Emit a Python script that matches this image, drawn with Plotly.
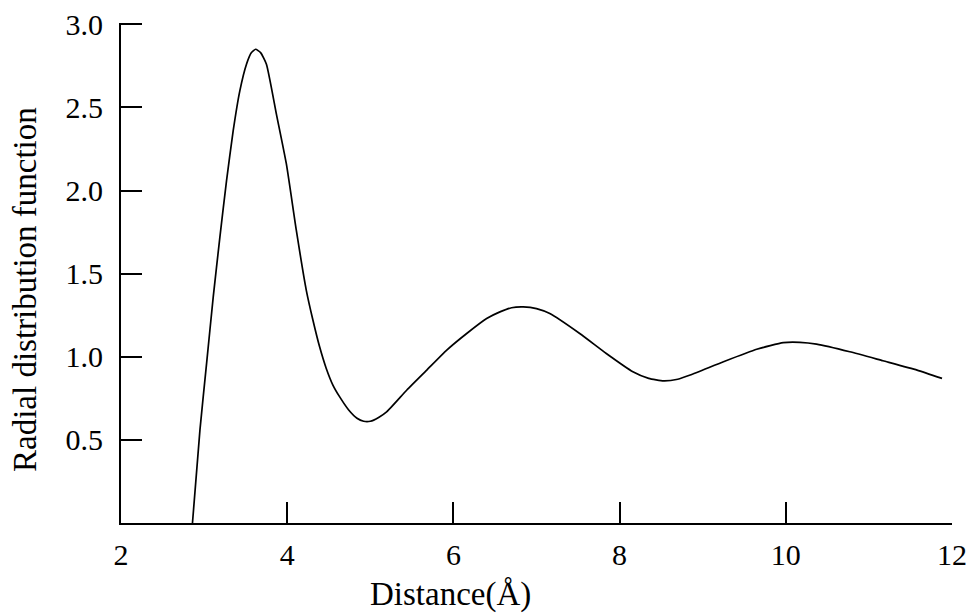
import plotly.graph_objects as go

# Radial distribution function g(r)
distance = [2.86, 2.95, 3.03, 3.11, 3.19, 3.27, 3.35, 3.43, 3.51, 3.57, 3.62, 3.68, 3.75,
            3.87, 3.99, 4.11, 4.23, 4.31, 4.39, 4.47, 4.55, 4.63, 4.74, 4.84, 4.92, 5.00,
            5.10, 5.20, 5.44, 5.68, 5.92, 6.16, 6.40, 6.56, 6.70, 6.84, 7.00, 7.16,
            7.52, 7.84, 8.16, 8.35, 8.53, 8.70, 8.85, 9.25, 9.65, 9.97, 10.17, 10.37,
            10.77, 11.17, 11.58, 11.88]
rdf = [0.00, 0.56, 0.96, 1.36, 1.72, 2.06, 2.36, 2.60, 2.76, 2.83, 2.85, 2.83, 2.76,
       2.46, 2.16, 1.76, 1.40, 1.22, 1.06, 0.93, 0.83, 0.76, 0.68, 0.63, 0.612, 0.612,
       0.635, 0.67, 0.80, 0.92, 1.04, 1.14, 1.23, 1.27, 1.295, 1.30, 1.29, 1.26,
       1.14, 1.02, 0.91, 0.87, 0.855, 0.865, 0.89, 0.97, 1.045, 1.085, 1.087, 1.076,
       1.03, 0.976, 0.92, 0.87]

x_ticks = [2, 4, 6, 8, 10, 12]
y_ticks = [0.5, 1.0, 1.5, 2.0, 2.5, 3.0]
y_tick_text = ["0.5", "1.0", "1.5", "2.0", "2.5", "3.0"]

FONT = "Liberation Serif, Times New Roman, serif"

PLOT_W = 952 - 121
PLOT_H = 523 - 23

fig = go.Figure()
fig.add_trace(go.Scatter(
    x=distance, y=rdf, mode="lines",
    line=dict(color="black", width=1.7, shape="spline", smoothing=0.5),
    hoverinfo="x+y", showlegend=False,
))

fig.update_layout(
    width=979, height=616,
    margin=dict(l=121, r=27, t=23, b=93),
    paper_bgcolor="white", plot_bgcolor="white",
    font=dict(family=FONT, size=30, color="black"),
    xaxis=dict(
        range=[2, 12], tickvals=x_ticks, ticks="inside", ticklen=21, tickwidth=1.5,
        tickcolor="black", showline=True, linecolor="black", linewidth=2,
        showgrid=False, zeroline=False, ticklabelstandoff=4, automargin=False,
        tickfont=dict(family=FONT, size=30),
    ),
    yaxis=dict(
        range=[0, 3.008], tickvals=y_ticks, ticktext=y_tick_text, ticks="inside",
        ticklen=21, tickwidth=1.5, tickcolor="black", showline=True,
        linecolor="black", linewidth=2, showgrid=False, zeroline=False,
        ticklabelstandoff=10, automargin=False, tickfont=dict(family=FONT, size=30),
    ),
    annotations=[
        dict(text="Distance(Å)", xref="paper", yref="paper",
             x=(450 - 121) / PLOT_W, y=-(594 - 523) / PLOT_H,
             showarrow=False, xanchor="center", yanchor="middle",
             font=dict(family=FONT, size=33)),
        dict(text="Radial distribution function", xref="paper", yref="paper",
             x=-(121 - 25) / PLOT_W, y=(523 - 290) / PLOT_H,
             showarrow=False, xanchor="center", yanchor="middle", textangle=-90,
             font=dict(family=FONT, size=33)),
    ],
)

fig.write_html(
    "out.html",
    config={"displayModeBar": False},
    post_script="document.body.style.margin='0';document.body.style.overflow='hidden';",
)
